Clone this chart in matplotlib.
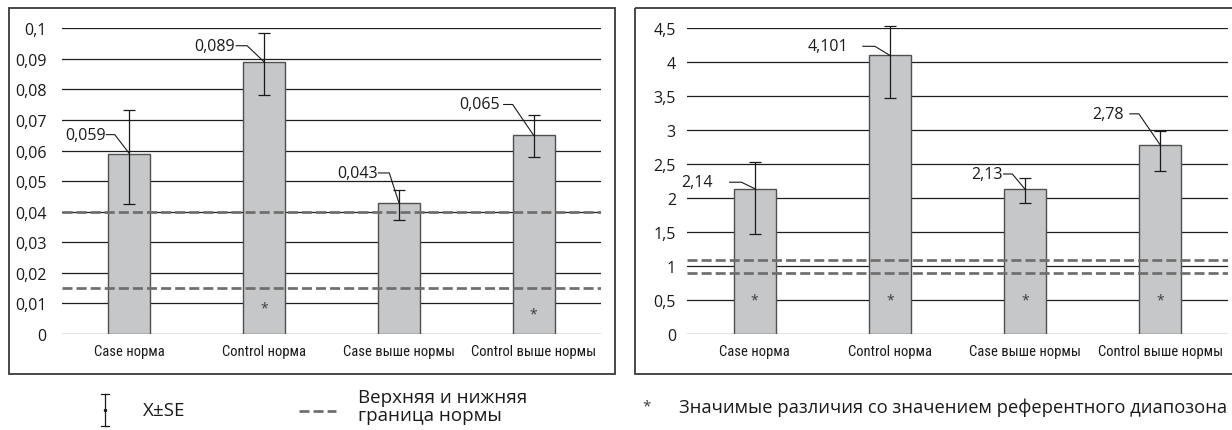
import matplotlib
matplotlib.use("Agg")
import matplotlib.pyplot as plt
from matplotlib import font_manager as fm
from matplotlib.patches import Rectangle
from matplotlib.lines import Line2D
from matplotlib.ticker import FuncFormatter, MultipleLocator

# ---------------- data ----------------
categories = ["Case норма", "Control норма", "Case выше нормы", "Control выше нормы"]

left_values = [0.059, 0.089, 0.043, 0.065]
left_err_low = [0.0426, 0.0782, 0.0372, 0.0578]    # lower end of X±SE
left_err_high = [0.0733, 0.0984, 0.0472, 0.0717]   # upper end of X±SE
left_norm = [0.015, 0.040]                         # lower / upper reference bound
left_sig = [None, 0.0085, None, 0.0065]            # "*" marks

right_values = [2.14, 4.101, 2.13, 2.78]
right_err_low = [1.475, 3.475, 1.927, 2.405]
right_err_high = [2.537, 4.53, 2.293, 2.991]
right_norm = [0.90, 1.09]
right_sig = [0.5, 0.5, 0.5, 0.5]

# ---------------- style ----------------
names = {f.name for f in fm.fontManager.ttflist}
MAIN_FONT = "Open Sans" if "Open Sans" in names else "DejaVu Sans"
narrow = next((n for n in ["Roboto Condensed", "Liberation Sans Narrow",
                           "Open Sans Condensed"] if n in names), None)
if narrow:
    CAT_FONT = dict(family=narrow, size=10.5)
else:
    CAT_FONT = dict(family="DejaVu Sans", stretch="condensed", size=9.5)

plt.rcParams["font.family"] = [MAIN_FONT, "DejaVu Sans"]

BAR_FACE = "#c6c7c9"
BAR_EDGE = "#505050"
GRID = "#1e1e1e"
DASH = "#6e6e6e"
DASH_LW = 1.95
DASH_STYLE = (0, (3.7, 1.5))
FRAME = "#3a3a3a"
INK = "#1a1a1a"

W, H = 1232, 431
fig = plt.figure(figsize=(W / 100, H / 100), dpi=100)

# pixel-space overlay for frames and legend
over = fig.add_axes([0, 0, 1, 1])
over.set_xlim(0, W)
over.set_ylim(H, 0)
over.axis("off")
over.add_patch(Rectangle((9, 9), 606, 366, fill=False, ec=FRAME, lw=1.3))
over.add_patch(Rectangle((635, 9), 620, 366, fill=False, ec=FRAME, lw=1.3,
                         clip_on=False))

y0_px, ytop_px = 335.0, 29.3


def make_axes(x0, x1):
    return fig.add_axes([x0 / W, (H - y0_px) / H, (x1 - x0) / W,
                         (y0_px - ytop_px) / H])


def fmt(v, _=None):
    return ("%g" % round(v, 4)).replace(".", ",")


def draw_panel(ax, values, lo, hi, norm, sig, ymax, step, label_offsets, pad):
    x = list(range(len(categories)))
    ax.set_xlim(-0.5, len(categories) - 0.5)
    ax.set_ylim(0, ymax)
    ax.patch.set_visible(False)
    for s in ax.spines.values():
        s.set_visible(False)
    ax.yaxis.set_major_locator(MultipleLocator(step))
    ax.yaxis.set_major_formatter(FuncFormatter(fmt))
    ax.tick_params(axis="y", length=0, pad=pad, labelsize=11.5, colors=INK)
    ax.tick_params(axis="x", length=0, pad=7)
    ax.set_xticks(x)
    ax.set_xticklabels(categories, **CAT_FONT, color=INK)
    ax.grid(axis="y", color=GRID, lw=0.9, zorder=0)
    ax.set_axisbelow(True)

    ax.bar(x, values, width=0.31, color=BAR_FACE, edgecolor=BAR_EDGE, lw=1.0,
           zorder=2)
    yerr = [[v - l for v, l in zip(values, lo)], [h - v for v, h in zip(values, hi)]]
    eb = ax.errorbar(x, values, yerr=yerr, fmt="none", ecolor=INK, elinewidth=0.9,
                     capsize=4, capthick=0.9, zorder=4)
    for artist in eb.lines[1] + eb.lines[2]:
        artist.set_clip_on(False)
    for level in norm:
        ax.axhline(level, color=DASH, lw=DASH_LW, ls=DASH_STYLE, zorder=3)
    for xi, s in zip(x, sig):
        if s is not None:
            ax.text(xi, s, "*", ha="center", va="center", fontsize=10,
                    color="#3a3a3a", zorder=5)

    # value labels with leader lines
    inv = ax.transData.inverted()
    for xi, v, (dx_text, dx_start, dx_knee, dy) in zip(x, values, label_offsets):
        px, py = ax.transData.transform((xi, v))
        pts = inv.transform([(px + dx_start, py + dy), (px + dx_knee, py + dy), (px, py)])
        ax.plot(pts[:, 0], pts[:, 1], color=INK, lw=0.8, zorder=5, clip_on=False)
        ax.annotate(fmt(v), xy=(xi, v), xytext=(dx_text, dy),
                    textcoords="offset pixels", ha="right", va="center",
                    fontsize=11.5, color=INK, zorder=6)


ax1 = make_axes(62, 601)
draw_panel(ax1, left_values, left_err_low, left_err_high, left_norm, left_sig,
           0.1, 0.01,
           [(-24, -23, -14.6, 19), (-29.7, -28, -17, 16.2),
            (-21.4, -20.5, -9.6, 29.6), (-34, -30, -21, 30.8)],
           pad=11)

ax2 = make_axes(687, 1228)
draw_panel(ax2, right_values, right_err_low, right_err_high, right_norm, right_sig,
           4.5, 0.5,
           [(-42, -25, -13.2, 6.4), (-41.5, -27, -15, 9.1),
            (-22.7, -21.5, -12.8, 15.3), (-36.5, -30.5, -21.5, 31.3)],
           pad=8)

# ---------------- legend ----------------
over.add_line(Line2D([105, 105], [395, 427], color=INK, lw=0.9))
over.add_line(Line2D([101, 109], [395, 395], color=INK, lw=0.9))
over.add_line(Line2D([101, 109], [427, 427], color=INK, lw=0.9))
over.plot([105], [411], marker="o", ms=1.5, color=INK)
over.text(143, 411, "X±SE", ha="left", va="center", fontsize=13.5, color=INK)
over.add_line(Line2D([299, 336], [412, 412], color=DASH, lw=DASH_LW, ls=DASH_STYLE))
over.text(358, 407, "Верхняя и нижняя\nграница нормы", ha="left", va="center",
          fontsize=13.5, color=INK, linespacing=1.0)
over.text(647, 407, "*", ha="center", va="center", fontsize=11, color="#3a3a3a")
over.text(679, 408, "Значимые различия со значением референтного диапозона",
          ha="left", va="center", fontsize=13.2, color=INK)

fig.savefig("out.png", dpi=100)
